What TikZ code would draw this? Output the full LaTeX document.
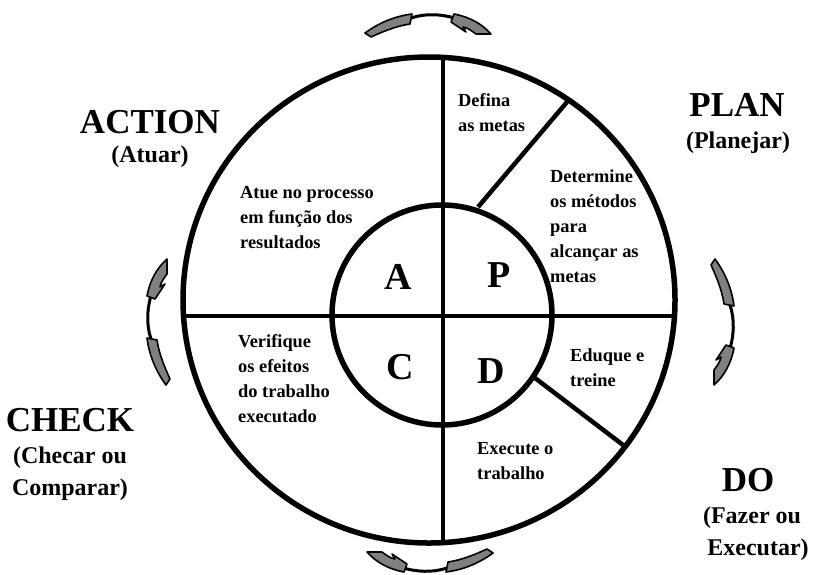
\documentclass[tikz,border=0pt]{standalone}
\usepackage{fontspec}
\setmainfont{Liberation Serif}
\definecolor{arrowgray}{RGB}{128,128,128}
\tikzset{
  ring/.style={line width=5.5pt},
  spoke/.style={line width=4.5pt},
  big/.style={font=\fontsize{35}{40}\selectfont\bfseries,inner sep=0pt},
  sub/.style={font=\fontsize{24}{29}\selectfont\bfseries,inner sep=0pt},
  letter/.style={font=\fontsize{38}{40}\selectfont\bfseries,inner sep=0pt},
  hint/.style={font=\fontsize{18.4}{25}\selectfont\bfseries,align=left,anchor=west,inner sep=0pt},
  turn/.pic={
    \filldraw[fill=arrowgray,line width=1.6pt,line join=round]
      (-63,9) .. controls (-48,-2) and (-32,-8) .. (-16,-10) -- (-18,0)
      .. controls (-32,2) and (-46,8) .. (-57,13) -- cycle;
    \draw[line width=3pt] (-17,-6) .. controls (-2,-11) and (14,-10) .. (30,-5);
    \filldraw[fill=arrowgray,line width=1.6pt,line join=round]
      (26,-10) .. controls (42,-7) and (54,0) .. (63,10) -- (48,10)
      .. controls (44,7) and (40,4) .. (35,3) -- (38,8) -- (23,-2) -- cycle;
  }
}
\begin{document}
\begin{tikzpicture}[x=1pt,y=-1pt]
            \useasboundingbox(0,0)rectangle(818,574);
            \coordinate(O)at(429,300);
            \coordinate(I)at(442,315);
            \coordinate(T)at(443,57);
            \coordinate(B)at(443,543);
            \coordinate(L)at(184,316);
            \coordinate(R)at(674,316);
            \coordinate(Pin)at(478,207);
            \coordinate(Pout)at(567,102);
            \coordinate(Din)at(535,378);
            \coordinate(Dout)at(627,448);
            \draw[ring](O)ellipse[x radius=246,y radius=243];
            \draw[ring](I)circle[radius=110];
            \draw[spoke](T)--(B);
            \draw[spoke](L)--(R);
            \draw[spoke](Pin)--(Pout);
            \draw[spoke](Din)--(Dout);
            % turning arrows
            \pic at(428,24){turn};
            \pic[rotate=-90] at(724,322){turn};
            \pic[rotate=180] at(430,562){turn};
            \pic[rotate=90] at(157,322){turn};
            % quadrant letters
            \node[letter](a)at(398,277){A};
            \node[letter](p)at(499,275){P};
            \node[letter](c)at(400,367){C};
            \node[letter](d)at(491,371){D};
            % steps
            \node[hint](defina)at(458,113){Defina\\as metas};
            \node[hint](determine)at(550,226){Determine\\os métodos\\para\\alcançar as\\metas};
            \node[hint](atue)at(240,218){Atue no processo\\em função dos\\resultados};
            \node[hint](verifique)at(238,379){Verifique\\os efeitos\\do trabalho\\executado};
            \node[hint](eduque)at(570,368){Eduque e\\treine};
            \node[hint](execute)at(477,461){Execute o\\trabalho};
            % phase titles
            \node[big](action)at(150,122){ACTION};
            \node[sub](atuar)at(150,157){(Atuar)};
            \node[big](plan)at(737,105){PLAN};
            \node[sub](planejar)at(738,143){(Planejar)};
            \node[big](check)at(70,420){CHECK};
            \node[sub](checar)at(70,458){(Checar ou};
            \node[sub](comparar)at(70,490){Comparar)};
            \node[big](do)at(748,480){DO};
            \node[sub](fazer)at(752,518){(Fazer ou};
            \node[sub](executar)at(758,550){Executar)};
        \end{tikzpicture}
\end{document}
